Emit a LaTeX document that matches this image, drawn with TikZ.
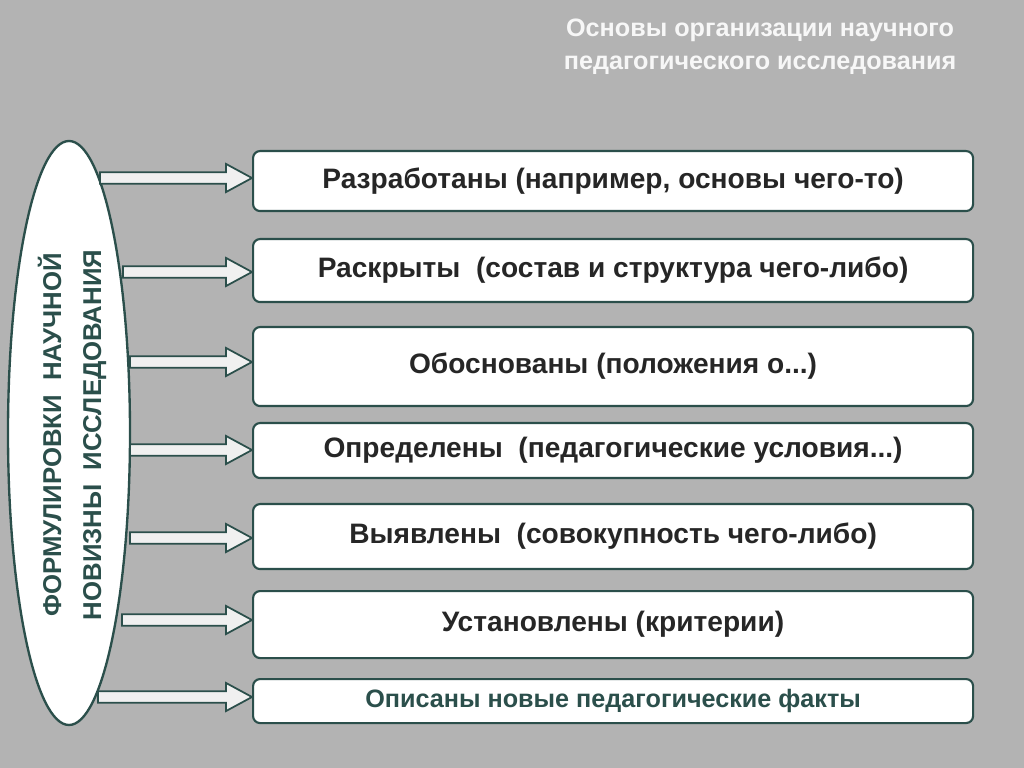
\documentclass[tikz,border=0pt]{standalone}
\usepackage{fontspec}
\setmainfont{Liberation Sans}
\usetikzlibrary{calc,shapes.geometric}
\definecolor{bg}{HTML}{B3B3B3}
\definecolor{teal}{HTML}{2B4F4B}
\tikzset{
  x=0.03cm, y=-0.03cm,
  bx/.style={draw=teal, line width=1.8pt, fill=white, rounded corners=6pt, minimum width=21.6cm, anchor=north west, font=\bfseries\fontsize{24}{28}\selectfont, text=black!85},
  ar/.style={draw=teal, line width=1.5pt, fill=white!94!black}
}
\newcommand{\blockarrow}[2]{%
  \draw[ar] let \p1=(#1), \p2=(#2) in
    (\x1,\y1+5) -- (\x2-26*0.03cm,\y1+5) -- (\x2-26*0.03cm,\y1+12) -- (\x2,\y1)
    -- (\x2-26*0.03cm,\y1-12) -- (\x2-26*0.03cm,\y1-5) -- (\x1,\y1-5) -- cycle;}
\begin{document}
\begin{tikzpicture}
  \fill[bg] (0,0) rectangle (1024,768);
  \node[text=white!97!black, font=\bfseries\fontsize{21.5}{28}\selectfont, align=center] (title) at (760,47)
    {Основы организации научного\\педагогического исследования};
  \node[draw=teal, line width=2pt, fill=white, ellipse, minimum width=122*0.03cm, minimum height=584*0.03cm] (ell) at (69,433) {};
  \node[rotate=90, text=teal, font=\bfseries\fontsize{22}{34}\selectfont, align=center] (elltxt) at (72,435)
    {ФОРМУЛИРОВКИ\ \ НАУЧНОЙ\\НОВИЗНЫ\ \ ИССЛЕДОВАНИЯ};
  % boxes
  \node[bx, minimum height=60*0.03cm] (b1) at (252,150) {Разработаны (например, основы чего-то)};
  \node[bx, minimum height=63*0.03cm] (b2) at (252,238) {Раскрыты\ \ (состав и структура чего-либо)};
  \node[bx, minimum height=79*0.03cm] (b3) at (252,326) {Обоснованы (положения о...)};
  \node[bx, minimum height=55*0.03cm] (b4) at (252,422) {Определены\ \ (педагогические условия...)};
  \node[bx, minimum height=65*0.03cm] (b5) at (252,503) {Выявлены\ \ (совокупность чего-либо)};
  \node[bx, minimum height=67*0.03cm] (b6) at (252,590) {Установлены (критерии)};
  \node[bx, minimum height=44*0.03cm, text=teal, font=\bfseries\fontsize{21.5}{24}\selectfont] (b7) at (252,678) {Описаны новые педагогические факты};
  % arrow starts
  \coordinate (a1) at (100,178);
  \coordinate (a2) at (123,272);
  \coordinate (a3) at (130,362);
  \coordinate (a4) at (130,450);
  \coordinate (a5) at (130,538);
  \coordinate (a6) at (122,620);
  \coordinate (a7) at (98,697);
  \foreach \i in {1,...,7}{\blockarrow{a\i}{b\i.west}}
\end{tikzpicture}
\end{document}
